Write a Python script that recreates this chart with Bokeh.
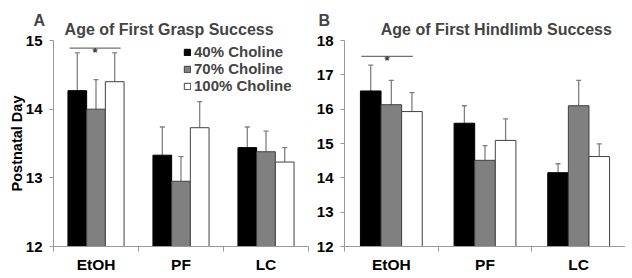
from bokeh.plotting import figure
from bokeh.layouts import row
from bokeh.models import Range1d, FixedTicker, Legend, LegendItem, Title
from bokeh.core.properties import value
from bokeh.embed import file_html
from bokeh.resources import INLINE

# ---------------- data ----------------
groups = ["EtOH", "PF", "LC"]
series_names = ["40% Choline", "70% Choline", "100% Choline"]

grasp_40 = [14.27, 13.33, 13.44]
grasp_70 = [14.00, 12.95, 13.38]
grasp_100 = [14.40, 13.73, 13.23]
grasp_40_sem = [0.55, 0.41, 0.30]
grasp_70_sem = [0.43, 0.36, 0.30]
grasp_100_sem = [0.42, 0.38, 0.21]

hind_40 = [16.53, 15.59, 14.15]
hind_70 = [16.13, 14.51, 16.10]
hind_100 = [15.93, 15.09, 14.62]
hind_40_sem = [0.75, 0.51, 0.26]
hind_70_sem = [0.71, 0.43, 0.74]
hind_100_sem = [0.55, 0.63, 0.37]

grasp_ticks = [12, 13, 14, 15]
hind_ticks = [12, 13, 14, 15, 16, 17, 18]

# significance annotations (group EtOH): [x_start, x_end] in group units, y level
grasp_sig = {"x0": 0.19, "x1": 0.79, "y": 14.89}
hind_sig = {"x0": 0.18, "x1": 0.73, "y": 17.54}

# ---------------- style ----------------
FONT = "Liberation Sans"
NBSP = "\u00a0"
fills = ["#000000", "#808080", "#ffffff"]
outlines = ["#000000", "#404040", "#404040"]
offsets = [-0.22, 0.0, 0.22]
BAR_W = 0.22
AXIS_COL = "#999999"
ERR_COL = "#808080"


def make_panel(letter, title, means, sems, ymax, yticks, sig, frame_w, border_left,
               border_right, ylabel=None, letter_offset=-20, pad_spaces=7):
    p = figure(frame_width=frame_w, frame_height=206, x_range=Range1d(0, 3),
               y_range=Range1d(12, ymax), output_backend="svg",
               toolbar_location=None, min_border_left=border_left,
               min_border_right=border_right, min_border_top=40,
               min_border_bottom=0)
    p.outline_line_color = None
    p.xgrid.grid_line_color = None
    p.ygrid.grid_line_color = None

    renderers = []
    for i, (m, s) in enumerate(zip(means, sems)):
        xs = [g + 0.5 + offsets[i] for g in range(len(groups))]
        tops = [a + b for a, b in zip(m, s)]
        p.segment(x0=xs, y0=m, x1=xs, y1=tops, line_color=ERR_COL, line_width=1.3)
        p.scatter(x=xs, y=tops, marker="dash", size=5, line_color=ERR_COL,
                  line_width=1.3)
        r = p.vbar(x=xs, top=m, bottom=12, width=BAR_W, fill_color=fills[i],
                   line_color=outlines[i], line_width=1)
        renderers.append(r)

    # significance bar
    p.segment(x0=[sig["x0"]], y0=[sig["y"]], x1=[sig["x1"]], y1=[sig["y"]],
              line_color="#707070", line_width=1.2)
    p.text(x=[(sig["x0"] + sig["x1"]) / 2], y=[sig["y"]], text=["*"],
           text_font=value(FONT), text_font_style="bold", text_font_size="13px",
           text_align="center", text_baseline="alphabetic", y_offset=4,
           text_color="#333333")

    # x axis: labels at group centres, ticks at group boundaries
    xa = p.xaxis[0]
    xa.ticker = FixedTicker(ticks=[0.5, 1.5, 2.5], minor_ticks=[0, 1, 2, 3])
    xa.major_label_overrides = {0.5: groups[0], 1.5: groups[1], 2.5: groups[2]}
    xa.major_tick_out = 0
    xa.major_tick_in = 0
    xa.minor_tick_out = 5
    xa.minor_tick_in = 0
    xa.minor_tick_line_color = AXIS_COL
    xa.axis_line_color = AXIS_COL
    xa.major_label_text_font = FONT
    xa.major_label_text_font_style = "bold"
    xa.major_label_text_font_size = "15.5px"
    xa.major_label_text_color = "#000000"
    xa.major_label_standoff = 4

    ya = p.yaxis[0]
    ya.ticker = FixedTicker(ticks=yticks, minor_ticks=[])
    ya.major_tick_out = 4
    ya.major_tick_in = 0
    ya.major_tick_line_color = AXIS_COL
    ya.axis_line_color = AXIS_COL
    ya.major_label_text_font = FONT
    ya.major_label_text_font_style = "bold"
    ya.major_label_text_font_size = "15px"
    ya.major_label_text_color = "#000000"
    ya.major_label_standoff = 7
    if ylabel:
        ya.axis_label = ylabel
        ya.axis_label_text_font = FONT
        ya.axis_label_text_font_style = "bold"
        ya.axis_label_text_font_size = "14.5px"
        ya.axis_label_text_color = "#000000"
        ya.axis_label_standoff = -2

    # panel letter on the first line, title on the second (shifted right)
    p.add_layout(Title(text=letter + "\n" + NBSP * pad_spaces + title,
                       align="left", offset=letter_offset,
                       text_font=FONT, text_font_style="bold",
                       text_font_size="16px", standoff=5.5,
                       text_line_height=0.5), "above")
    return p, renderers


pA, rA = make_panel("A", "Age of First Grasp Success",
                    [grasp_40, grasp_70, grasp_100],
                    [grasp_40_sem, grasp_70_sem, grasp_100_sem],
                    15, grasp_ticks, grasp_sig, frame_w=255, border_left=53,
                    border_right=4, ylabel="Postnatal Day",
                    letter_offset=-20, pad_spaces=7)

legend = Legend(items=[LegendItem(label=n, renderers=[r]) for n, r in zip(series_names, rA)],
                location=(130, 152), label_text_font=FONT,
                label_text_font_style="bold", label_text_font_size="15px",
                glyph_width=8, glyph_height=8, label_standoff=3, spacing=0,
                padding=0, margin=0, label_height=17, background_fill_alpha=0,
                border_line_color=None)
pA.add_layout(legend)

pB, rB = make_panel("B", "Age of First Hindlimb Success",
                    [hind_40, hind_70, hind_100],
                    [hind_40_sem, hind_70_sem, hind_100_sem],
                    18, hind_ticks, hind_sig, frame_w=281, border_left=32,
                    border_right=0, letter_offset=-26, pad_spaces=14)

layout = row(pA, pB)
open("out.html", "w").write(file_html(layout, INLINE))
